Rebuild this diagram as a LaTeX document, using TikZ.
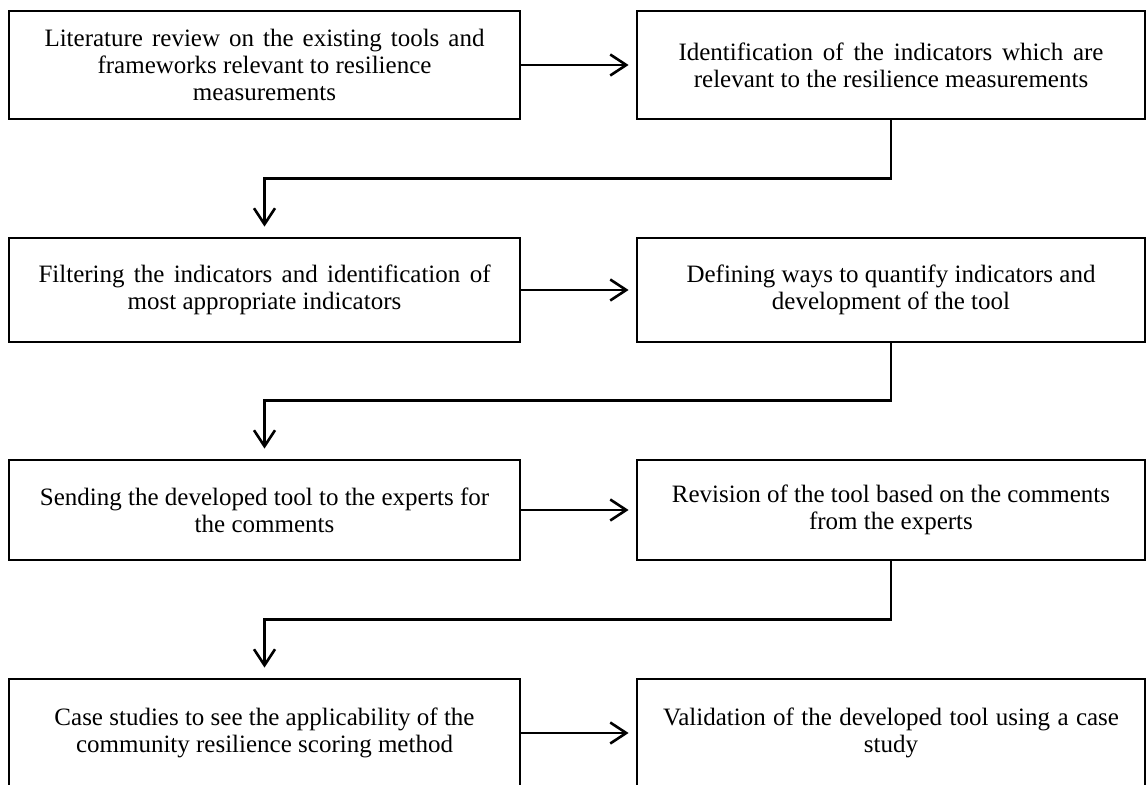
\documentclass[tikz,border=0pt]{standalone}
\usepackage{fontspec}
\setmainfont{Liberation Serif}
\usetikzlibrary{arrows.meta}
\newcommand{\sline}[2]{\makebox[#1pt][s]{#2}}
\begin{document}
\begin{tikzpicture}[x=1pt,y=-1pt,
  stepbox/.style={draw=black,line width=2.8pt,inner sep=0pt,align=center,
    font=\fontsize{25}{27}\selectfont},
  conn/.style={line width=2.6pt,-{Straight Barb[length=16pt,width=21pt,line width=2.6pt]}},
  ]
\useasboundingbox[fill=white] (0,0) rectangle (1147,784);
\newcommand{\mybox}[6]{%
  \node[stepbox,minimum width=#4-#2,minimum height=#5-#3] (#1) at ({(#2+#4)/2},{(#3+#5)/2}) {#6};}
\mybox{l1}{9}{11}{520}{119}{\sline{440}{Literature review on the existing tools and}\\frameworks relevant to resilience\\measurements}
\mybox{r1}{637}{11}{1145}{119}{\sline{425}{Identification of the indicators which are}\\relevant to the resilience measurements}
\mybox{l2}{9}{238}{520}{342}{\sline{452}{Filtering the indicators and identification of}\\most appropriate indicators}
\mybox{r2}{637}{238}{1145}{342}{Defining ways to quantify indicators and\\development of the tool}
\mybox{l3}{9}{460}{520}{560}{Sending the developed tool to the experts for\\the comments}
\mybox{r3}{637}{460}{1145}{560}{Revision of the tool based on the comments\\from the experts}
\mybox{l4}{9}{679}{520}{787}{Case studies to see the applicability of the\\community resilience scoring method}
\mybox{r4}{637}{679}{1145}{787}{\sline{456}{Validation of the developed tool using a case}\\study}
\draw[conn,shorten >=7pt] (l1.east) -- (r1.west);
\draw[conn,shorten >=7pt] (l2.east) -- (r2.west);
\draw[conn,shorten >=7pt] (l3.east) -- (r3.west);
\draw[conn,shorten >=7pt] (l4.east) -- (r4.west);
\coordinate (m1) at (0,178.5);
\coordinate (m2) at (0,400.5);
\coordinate (m3) at (0,619.5);
\draw[conn,shorten >=10pt] (r1.south) -- (r1.south |- m1) -- (l2.north |- m1) -- (l2.north);
\draw[conn,shorten >=10pt] (r2.south) -- (r2.south |- m2) -- (l3.north |- m2) -- (l3.north);
\draw[conn,shorten >=10pt] (r3.south) -- (r3.south |- m3) -- (l4.north |- m3) -- (l4.north);
\end{tikzpicture}
\end{document}
